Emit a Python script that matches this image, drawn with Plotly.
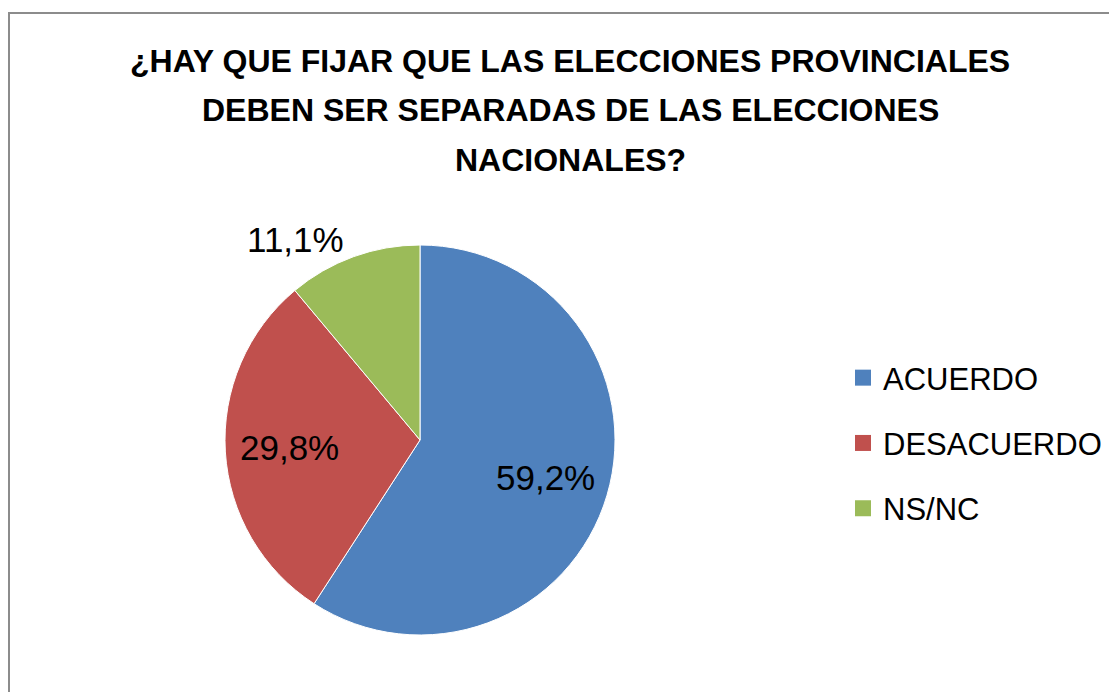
import math
import plotly.graph_objects as go

# ---- data ----
labels = ["ACUERDO", "DESACUERDO", "NS/NC"]
values = [59.2, 29.8, 11.1]
colors = ["#4F81BD", "#C0504D", "#9BBB59"]
label_inside = [True, True, False]
title_lines = [
    "¿HAY QUE FIJAR QUE LAS ELECCIONES PROVINCIALES",
    "DEBEN SER SEPARADAS DE LAS ELECCIONES",
    "NACIONALES?",
]

W, H = 1117, 692
FONT = "Liberation Sans, Arial, sans-serif"
# pie centre / radius in px (page has an 8px body margin)
CX, CY, R = 412, 432, 195

fig = go.Figure()

fig.add_trace(go.Pie(
    labels=labels,
    values=values,
    sort=False,
    direction="clockwise",
    rotation=0,
    marker=dict(colors=colors, line=dict(color="white", width=1)),
    texttemplate="%{value:.1f}%",
    textposition=["none" if ins else "outside" for ins in label_inside],
    textfont=dict(family=FONT, size=35, color="black"),
    domain=dict(x=[(CX - R) / W, (CX + R) / W],
                y=[1 - (CY + R) / H, 1 - (CY - R) / H]),
    showlegend=False,
    hoverinfo="label+percent",
))

# inside labels, placed at 2/3 of the radius on the slice mid-angle
total = sum(values)
cum = 0
for v, ins in zip(values, label_inside):
    mid = (cum + v / 2) / total * 2 * math.pi
    cum += v
    if not ins:
        continue
    px_ = CX + 0.67 * R * math.sin(mid)
    py_ = CY - 0.67 * R * math.cos(mid)
    fig.add_annotation(
        text=f"{v:.1f}%".replace(".", ","), xref="paper", yref="paper",
        x=px_ / W, y=1 - py_ / H, xanchor="center", yanchor="middle",
        showarrow=False, font=dict(family=FONT, size=35, color="black"),
    )

# legend entries (separate groups so the gap between them can be set)
for lab, col in zip(labels, colors):
    fig.add_trace(go.Scatter(
        x=[None], y=[None], mode="markers", name=lab, legendgroup=lab,
        marker=dict(symbol="square", size=16, color=col),
    ))

# title, one line at a time for the wide line spacing
for i, line in enumerate(title_lines):
    fig.add_annotation(
        text="<b>" + line + "</b>", xref="paper", yref="paper",
        x=562 / W, y=1 - (53 + 49.5 * i) / H, xanchor="center", yanchor="middle",
        showarrow=False, font=dict(family=FONT, size=32, color="black"),
    )

fig.update_layout(
    width=W, height=H,
    margin=dict(l=0, r=0, t=0, b=0),
    paper_bgcolor="white", plot_bgcolor="white",
    separators=",.",
    xaxis=dict(visible=False), yaxis=dict(visible=False),
    legend=dict(
        x=835 / W, y=1 - 435 / H, xanchor="left", yanchor="middle",
        font=dict(family=FONT, size=31, color="black"),
        traceorder="grouped", tracegroupgap=22,
        bgcolor="rgba(0,0,0,0)",
    ),
    shapes=[dict(
        type="rect", xref="paper", yref="paper",
        x0=1 / W, x1=1.2, y0=-0.2, y1=1 - 5 / H,
        line=dict(color="#8C8C8C", width=2), fillcolor="rgba(0,0,0,0)",
    )],
)

fig.write_html("out.html")
